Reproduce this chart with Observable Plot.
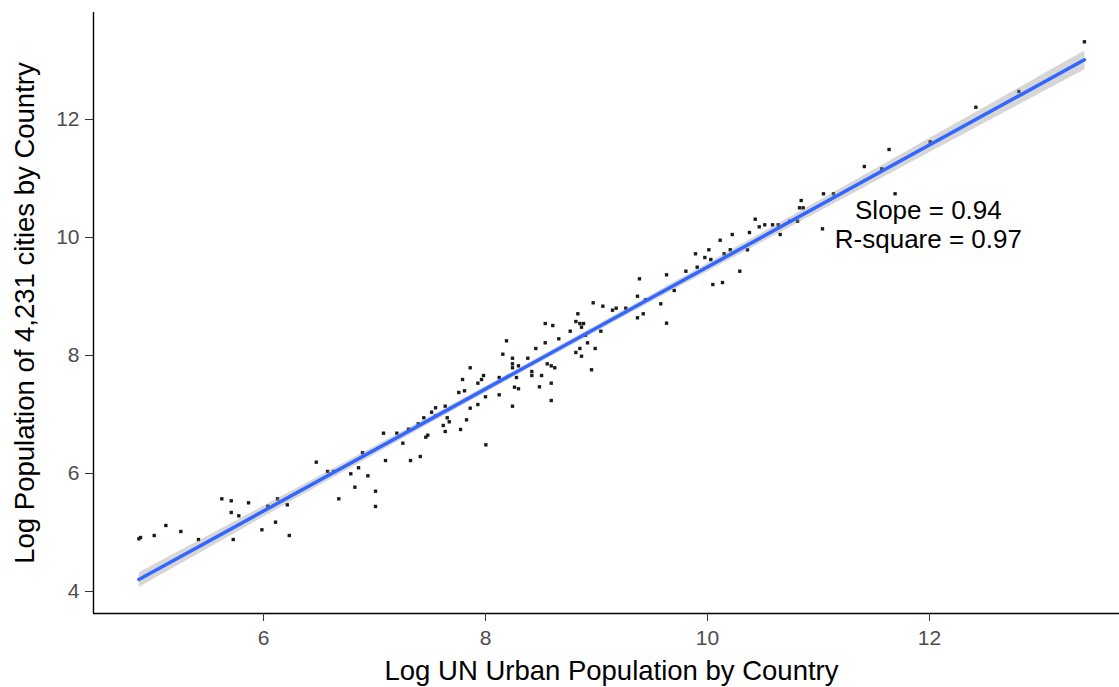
<!DOCTYPE html>
<html>
<head>
<meta charset="utf-8">
<script src="https://cdn.jsdelivr.net/npm/d3@7"></script>
<script src="https://cdn.jsdelivr.net/npm/@observablehq/plot@0.6"></script>
<style>
  html, body { margin: 0; padding: 0; background: #fff; }
  #chart { width: 1119px; height: 687px; overflow: hidden; }
</style>
</head>
<body>
<div id="chart"></div>
<script>
// Log UN urban population by country (x) vs log population of 4,231 cities by country (y)
const unUrbanLog = [
  4.877, 4.892, 5.015, 5.120, 5.255, 5.414, 5.624, 5.709, 5.709, 5.777,
  5.865, 5.727, 5.985, 6.039, 6.126, 6.214, 6.108, 6.232, 6.678, 6.475,
  6.577, 6.633, 6.786, 6.823, 6.856, 6.892, 6.940, 7.009, 7.009, 7.081,
  7.099, 7.201, 7.255, 7.306, 7.324, 7.394, 7.412, 7.444, 7.462, 7.480,
  7.514, 7.550, 7.550, 7.619, 7.637, 7.637, 7.655, 7.673, 7.775, 7.829,
  7.862, 7.931, 8.003, 7.759, 7.811, 7.793, 7.862, 7.931, 7.964, 7.982,
  8.000, 8.123, 8.123, 8.156, 8.189, 8.243, 8.243, 8.243, 8.243, 8.261,
  8.297, 8.279, 8.297, 8.381, 8.417, 8.417, 8.453, 8.486, 8.505, 8.538,
  8.538, 8.556, 8.592, 8.624, 8.592, 8.592, 8.606, 8.660, 8.763, 8.814,
  8.832, 8.814, 8.850, 8.865, 8.883, 8.850, 8.865, 8.901, 8.919, 8.955,
  8.988, 8.970, 9.039, 9.057, 9.144, 9.177, 9.264, 9.369, 9.421, 9.369,
  9.387, 9.441, 9.579, 9.631, 9.631, 9.700, 9.805, 9.892, 9.907, 9.976,
  10.012, 10.030, 10.048, 10.114, 10.135, 10.150, 10.205, 10.223, 10.291, 10.360,
  10.378, 10.430, 10.466, 10.516, 10.586, 10.637, 10.655, 10.741, 10.811, 10.829,
  10.862, 10.844, 11.036, 13.396, 12.805, 12.418, 12.006, 11.636, 11.413, 11.570,
  11.045, 11.135, 11.690
];
const citiesLog = [
  4.893, 4.915, 4.949, 5.119, 5.017, 4.881, 5.571, 5.537, 5.339, 5.283,
  5.503, 4.881, 5.046, 5.446, 5.571, 5.469, 5.175, 4.949, 5.571, 6.192,
  6.034, 6.034, 5.995, 5.768, 6.097, 6.351, 5.961, 5.700, 5.441, 6.683,
  6.220, 6.683, 6.514, 6.751, 6.220, 6.842, 6.288, 6.944, 6.615, 6.649,
  7.039, 7.114, 6.978, 6.814, 7.141, 6.712, 6.944, 6.876, 6.746, 6.910,
  7.107, 7.169, 6.486, 7.373, 7.402, 7.593, 7.792, 7.531, 7.593, 7.661,
  7.300, 7.627, 7.334, 8.022, 8.249, 7.954, 7.859, 7.792, 7.141, 7.463,
  7.825, 7.627, 7.436, 7.954, 7.729, 7.661, 8.119, 7.469, 7.661, 8.215,
  8.542, 7.859, 7.825, 7.792, 7.531, 7.237, 8.508, 8.283, 8.412, 8.051,
  8.707, 8.576, 8.542, 8.480, 8.542, 8.119, 7.988, 8.344, 8.215, 7.758,
  8.119, 8.893, 8.412, 8.836, 8.768, 8.802, 8.802, 8.639, 8.707, 9.005,
  9.300, 8.944, 8.876, 9.368, 8.548, 9.102, 9.429, 9.724, 9.497, 9.661,
  9.792, 9.627, 9.203, 9.954, 9.237, 9.724, 9.792, 10.051, 9.429, 9.792,
  10.085, 10.310, 10.181, 10.215, 10.215, 10.215, 10.051, 10.276, 10.276, 10.503,
  10.503, 10.627, 10.147, 13.317, 12.475, 12.208, 11.622, 11.492, 11.203, 11.164,
  10.741, 10.741, 10.741
];
const xTicks = [6, 8, 10, 12];
const yTicks = [4, 6, 8, 10, 12];
const xTitle = "Log UN Urban Population by Country";
const yTitle = "Log Population of 4,231 cities by Country";
const annotationText = ["Slope = 0.94\nR-square = 0.97"];
const annotationX = [11.99];
const annotationY = [10.22];

const points = unUrbanLog.map((x, i) => ({x, y: citiesLog[i]}));
const xDomain = [4.468, 13.712];
const yDomain = [3.627, 13.814];

const chart = Plot.plot({
  width: 1119,
  height: 687,
  marginLeft: 93,
  marginRight: 0,
  marginTop: 12,
  marginBottom: 74,
  style: {fontFamily: "'Liberation Sans', Arial, sans-serif", background: "#fff", overflow: "visible"},
  x: {domain: xDomain},
  y: {domain: yDomain},
  marks: [
    Plot.dot(points, {x: "x", y: "y", symbol: "square", r: 1.9, fill: "#1a1a1a", stroke: null}),
    Plot.linearRegressionY(points, {x: "x", y: "y", stroke: "#3366FF", strokeWidth: 3.5, fill: "#999", fillOpacity: 0.4, ci: 0.95}),
    Plot.ruleY([yDomain[0]], {stroke: "#000", strokeWidth: 1.4}),
    Plot.ruleX([xDomain[0]], {stroke: "#000", strokeWidth: 1.4}),
    Plot.axisX({ticks: xTicks, tickSize: 8, tickPadding: 9, fontSize: 21, stroke: "#333", fill: "#4d4d4d", label: null, tickFormat: d => String(d)}),
    Plot.axisY({ticks: yTicks, tickSize: 8, tickPadding: 6, fontSize: 21, stroke: "#333", fill: "#4d4d4d", label: null, tickFormat: d => String(d)}),
    Plot.text([xTitle], {frameAnchor: "bottom", dx: 5, dy: 66, fontSize: 27.5, fill: "#000", textAnchor: "middle"}),
    Plot.text([yTitle], {frameAnchor: "left", rotate: -90, dx: -68, fontSize: 27.5, fill: "#000", textAnchor: "middle"}),
    Plot.text(annotationText, {x: annotationX, y: annotationY, fontSize: 26, lineHeight: 1.1, textAnchor: "middle", fill: "#000"})
  ]
});
document.getElementById("chart").appendChild(chart);
</script>
</body>
</html>
